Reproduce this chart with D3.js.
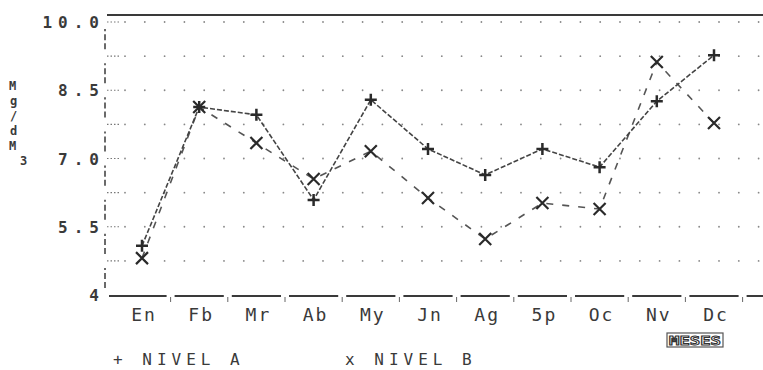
<!DOCTYPE html>
<html>
<head>
<meta charset="utf-8">
<script src="https://cdn.jsdelivr.net/npm/d3@7"></script>
<style>
  body { margin: 0; background: #fff; }
  text { font-family: "DejaVu Sans Mono", monospace; fill: #3a3a3a; }
</style>
</head>
<body>
<svg id="drawing_region"></svg>
<script>
// months and the two series
const months = ["En", "Fb", "Mr", "Ab", "My", "Jn", "Ag", "Sp", "Oc", "Nv", "Dc"];
const monthLabels = ["En", "Fb", "Mr", "Ab", "My", "Jn", "Ag", "5p", "Oc", "Nv", "Dc"];
const nivelA = [5.08, 8.13, 7.96, 6.09, 8.29, 7.21, 6.64, 7.21, 6.81, 8.26, 9.27];
const nivelB = [4.81, 8.13, 7.34, 6.55, 7.16, 6.13, 5.23, 6.02, 5.89, 9.12, 7.78];
const yTicks = [4, 5.5, 7, 8.5, 10];
const yTickLabels = ["4", "5.5", "7.0", "8.5", "10.0"];
const gridValues = [4.75, 5.5, 6.25, 7, 7.75, 8.5, 9.25, 10];

class LineChart {
    constructor( config ) {
        this.config = config;
        this.init();
    }

    init() {
        let self = this;
        self.svg = d3.select( self.config.parent )
            .attr('width', self.config.width)
            .attr('height', self.config.height);

        self.xscale = d3.scalePoint()
            .domain( months )
            .range( [142, 714] );

        self.yscale = d3.scaleLinear()
            .domain( [4, 10] )
            .range( [295, 22] );
    }

    render() {
        let self = this;
        const svg = self.svg;
        const ink = "#3a3a3a";
        const left = 105, right = 763;
        const step = self.xscale.step();

        // top border
        svg.append('line')
            .attr('x1', left + 2).attr('x2', right)
            .attr('y1', 15).attr('y2', 15)
            .attr('stroke', ink).attr('stroke-width', 2);

        // dotted grid rows
        gridValues.forEach( v => {
            const y = self.yscale(v);
            svg.append('line')
                .attr('x1', left + 2).attr('x2', left + 16)
                .attr('y1', y).attr('y2', y)
                .attr('stroke', "#777").attr('stroke-width', 1.2)
                .attr('stroke-dasharray', "1.5,2");
            svg.selectAll(null)
                .data( d3.range(125, right, 19.8) )
                .enter()
                .append('circle')
                .attr('cx', d => d)
                .attr('cy', y)
                .attr('r', 0.9)
                .attr('fill', "#888");
        });

        // y axis, broken dashes between grid rows
        const rows = [4].concat(gridValues);
        for (let i = 0; i < rows.length - 1; i++) {
            const y0 = self.yscale(rows[i]), y1 = self.yscale(rows[i + 1]);
            svg.append('line')
                .attr('x1', left).attr('x2', left)
                .attr('y1', y0 - 7).attr('y2', y1 + 7)
                .attr('stroke', ink).attr('stroke-width', 1.5)
                .attr('stroke-dasharray', "6,3");
        }

        // bottom axis: dashes broken at small ticks between months
        const yb = self.yscale(4) + 1;
        const ticks = months.map( d => self.xscale(d) + step / 2 );
        const bounds = [left].concat(ticks, [right + 4]);
        for (let i = 0; i < bounds.length - 1; i++) {
            svg.append('line')
                .attr('x1', bounds[i] + 4).attr('x2', bounds[i + 1] - 4)
                .attr('y1', yb).attr('y2', yb)
                .attr('stroke', ink).attr('stroke-width', 2);
        }
        svg.selectAll(null)
            .data( ticks )
            .enter()
            .append('line')
            .attr('x1', d => d).attr('x2', d => d)
            .attr('y1', yb + 1).attr('y2', yb + 6)
            .attr('stroke', "#666").attr('stroke-width', 1);

        // y tick labels
        svg.selectAll(null)
            .data( yTicks )
            .enter()
            .append('text')
            .attr('x', 105)
            .attr('y', d => self.yscale(d) + 6)
            .attr('text-anchor', "end")
            .attr('font-size', "16px")
            .attr('font-weight', "bold")
            .attr('letter-spacing', "6px")
            .text( (d, i) => yTickLabels[i] );

        // y title, stacked letters
        const title = svg.append('text')
            .attr('font-size', "12px")
            .attr('font-weight', "bold");
        [["M", 9, 90], ["g", 10, 105], ["/", 10, 120], ["d", 10, 135], ["M", 9, 150], ["3", 20, 165]]
            .forEach( c => {
                title.append('tspan').attr('x', c[1]).attr('y', c[2]).text(c[0]);
            });

        // month labels
        svg.selectAll(null)
            .data( months )
            .enter()
            .append('text')
            .attr('x', d => self.xscale(d) + 2)
            .attr('y', 321)
            .attr('text-anchor', "middle")
            .attr('font-size', "18px")
            .attr('letter-spacing', "2px")
            .text( (d, i) => monthLabels[i] );

        // MESES box
        svg.append('rect')
            .attr('x', 667).attr('y', 333)
            .attr('width', 56).attr('height', 14)
            .attr('fill', "#fff").attr('stroke', "#555").attr('stroke-width', 1.2);
        svg.append('text')
            .attr('x', 695).attr('y', 345)
            .attr('text-anchor', "middle")
            .attr('font-size', "13px")
            .attr('font-weight', "bold")
            .attr('textLength', 52)
            .attr('lengthAdjust', "spacingAndGlyphs")
            .style('fill', "#fff")
            .attr('stroke', "#333").attr('stroke-width', 1)
            .text("MESES");

        // lines
        const line = d3.line()
            .x( (d, i) => self.xscale(months[i]) )
            .y( d => self.yscale(d) );

        svg.append('path')
            .datum( nivelB )
            .attr('d', line)
            .attr('fill', "none")
            .attr('stroke', "#555").attr('stroke-width', 1.6)
            .attr('stroke-dasharray', "7,9");

        svg.append('path')
            .datum( nivelA )
            .attr('d', line)
            .attr('fill', "none")
            .attr('stroke', "#444").attr('stroke-width', 1.6)
            .attr('stroke-dasharray', "5,2");

        // markers
        const s = 6;
        svg.selectAll(null)
            .data( nivelA )
            .enter()
            .append('path')
            .attr('d', (d, i) => {
                const x = self.xscale(months[i]), y = self.yscale(d);
                return `M${x - s},${y}H${x + s}M${x},${y - s}V${y + s}`;
            })
            .attr('stroke', "#2a2a2a").attr('stroke-width', 2.5);

        svg.selectAll(null)
            .data( nivelB )
            .enter()
            .append('path')
            .attr('d', (d, i) => {
                const x = self.xscale(months[i]), y = self.yscale(d);
                return `M${x - s},${y - s}L${x + s},${y + s}M${x + s},${y - s}L${x - s},${y + s}`;
            })
            .attr('stroke', "#2a2a2a").attr('stroke-width', 2.2);

        // legend
        svg.append('text')
            .attr('x', 113).attr('y', 365)
            .attr('font-size', "16px")
            .attr('letter-spacing', "5px")
            .attr('xml:space', "preserve")
            .text("+ NIVEL A");
        svg.append('text')
            .attr('x', 345).attr('y', 365)
            .attr('font-size', "16px")
            .attr('letter-spacing', "5px")
            .attr('xml:space', "preserve")
            .text("x NIVEL B");
    }
}

const chart = new LineChart({ parent: '#drawing_region', width: 763, height: 370 });
chart.render();
</script>
</body>
</html>
